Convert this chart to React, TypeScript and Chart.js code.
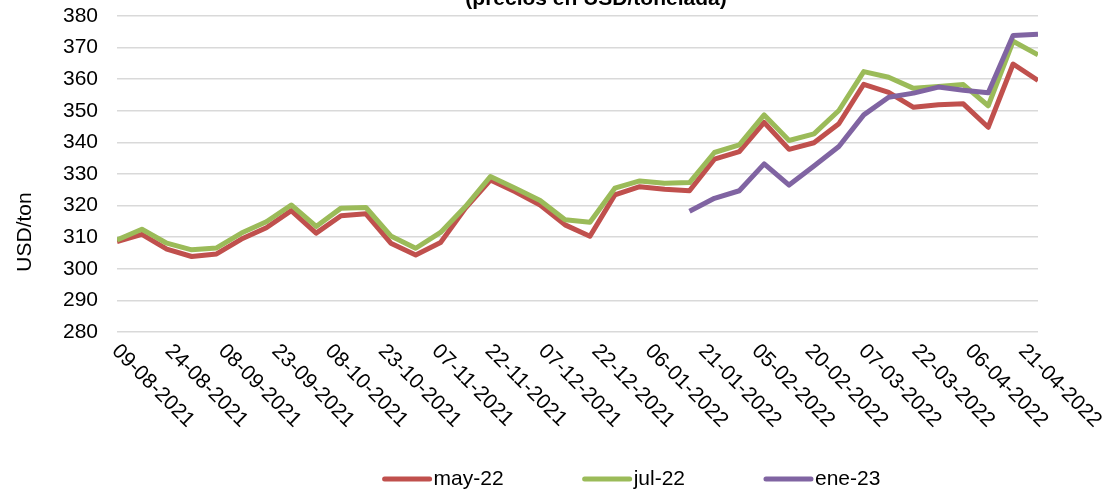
import React, { useEffect, useRef } from "react";
import { Chart, registerables } from "chart.js";

Chart.register(...registerables);

const TITLE = "(precios en USD/tonelada)";
const Y_TITLE = "USD/ton";

// Weekly observation dates (dd-mm-yyyy)
const dates = [
  "09-08-2021", "16-08-2021", "23-08-2021", "30-08-2021",
  "06-09-2021", "13-09-2021", "20-09-2021", "27-09-2021",
  "04-10-2021", "11-10-2021", "18-10-2021", "25-10-2021",
  "01-11-2021", "08-11-2021", "15-11-2021", "22-11-2021", "29-11-2021",
  "06-12-2021", "13-12-2021", "20-12-2021", "27-12-2021",
  "03-01-2022", "10-01-2022", "17-01-2022", "24-01-2022", "31-01-2022",
  "07-02-2022", "14-02-2022", "21-02-2022", "28-02-2022",
  "07-03-2022", "14-03-2022", "21-03-2022", "28-03-2022",
  "04-04-2022", "11-04-2022", "18-04-2022", "25-04-2022",
];

const may22 = [
  308.6, 310.9, 306.2, 303.9, 304.7, 309.4, 313.0, 318.4,
  311.3, 316.8, 317.4, 308.1, 304.4, 308.3, 319.2, 328.1, 324.4,
  320.2, 313.9, 310.3, 323.4, 326.0, 325.2, 324.7, 334.7, 337.1,
  346.3, 337.8, 339.9, 345.9, 358.4, 355.8, 351.1, 351.9,
  352.2, 344.8, 364.8, 359.6,
];

const jul22 = [
  309.1, 312.5, 308.1, 306.0, 306.6, 311.3, 314.9, 320.2,
  313.4, 319.2, 319.4, 310.4, 306.5, 311.5, 319.7, 329.2, 325.5,
  321.6, 315.5, 314.7, 325.5, 327.8, 327.1, 327.3, 336.8, 339.2,
  348.7, 340.6, 342.7, 350.1, 362.4, 360.6, 357.1, 357.7,
  358.3, 351.6, 372.0, 367.7,
];

const ene23 = [
  null, null, null, null, null, null, null, null,
  null, null, null, null, null, null, null, null, null,
  null, null, null, null, null, null, 318.2, 322.3, 324.7,
  333.2, 326.5, 332.5, 338.7, 348.7, 354.3, 355.6, 357.5,
  356.5, 355.7, 373.8, 374.2,
];

const seriesNames = ["may-22", "jul-22", "ene-23"];
const seriesColors = ["#C0504D", "#9BBB59", "#8064A2"];

const xTickLabels = [
  "09-08-2021", "24-08-2021", "08-09-2021", "23-09-2021", "08-10-2021",
  "23-10-2021", "07-11-2021", "22-11-2021", "07-12-2021", "22-12-2021",
  "06-01-2022", "21-01-2022", "05-02-2022", "20-02-2022", "07-03-2022",
  "22-03-2022", "06-04-2022", "21-04-2022",
];

const yMin = 280;
const yMax = 380;
const yStep = 10;

const FONT = '"Liberation Sans", Arial, Helvetica, sans-serif';
const FS = 21;

function dayOf(s: string): number {
  const [d, m, y] = s.split("-").map(Number);
  const base = Date.UTC(2021, 7, 9);
  return Math.round((Date.UTC(y, m - 1, d) - base) / 86400000);
}

const overlayPlugin = {
  id: "overlay",
  afterDraw(chart: any) {
    const ctx = chart.ctx as CanvasRenderingContext2D;
    const xs = chart.scales.x;
    const area = chart.chartArea;
    ctx.save();
    ctx.fillStyle = "#000";

    // Title (partially cut off at the top)
    ctx.font = `bold 21px ${FONT}`;
    ctx.textAlign = "center";
    ctx.textBaseline = "alphabetic";
    ctx.fillText(TITLE, 596, 5);

    // Y axis title
    ctx.save();
    ctx.font = `${FS}px ${FONT}`;
    ctx.translate(25, 232);
    ctx.rotate(-Math.PI / 2);
    ctx.textAlign = "center";
    ctx.textBaseline = "middle";
    ctx.fillText(Y_TITLE, 0, 0);
    ctx.restore();

    // X tick labels, rotated 45deg clockwise
    ctx.font = `${FS}px ${FONT}`;
    for (const lbl of xTickLabels) {
      const x = xs.getPixelForValue(dayOf(lbl));
      ctx.save();
      ctx.translate(x - 2, area.bottom + 16);
      ctx.rotate(Math.PI / 4);
      ctx.textAlign = "left";
      ctx.textBaseline = "middle";
      ctx.fillText(lbl, 0, 0);
      ctx.restore();
    }

    // Legend
    const lineLen = 49;
    const gap = 2;
    const itemGap = 79;
    const ds = chart.data.datasets;
    const widths = ds.map((d: any) => ctx.measureText(d.label).width);
    let total = 0;
    widths.forEach((w: number, i: number) => {
      total += lineLen + gap + w + (i < widths.length - 1 ? itemGap : 0);
    });
    let lx = 631.5 - total / 2;
    const ly = 479;
    ds.forEach((d: any, i: number) => {
      ctx.beginPath();
      ctx.strokeStyle = d.borderColor;
      ctx.lineWidth = 5;
      ctx.lineCap = "round";
      ctx.moveTo(lx + 2, ly);
      ctx.lineTo(lx + lineLen - 2, ly);
      ctx.stroke();
      ctx.textAlign = "left";
      ctx.textBaseline = "middle";
      ctx.fillStyle = "#000";
      ctx.fillText(d.label, lx + lineLen + gap, ly);
      lx += lineLen + gap + widths[i] + itemGap;
    });
    ctx.restore();
  },
};

export default function App() {
  const ref = useRef<HTMLCanvasElement | null>(null);

  useEffect(() => {
    document.body.style.margin = "0";
    const canvas = ref.current;
    if (!canvas) return;
    const xs = dates.map(dayOf);
    const series = [may22, jul22, ene23];
    const chart = new Chart(canvas, {
      type: "line",
      data: {
        datasets: series.map((vals, k) => ({
          label: seriesNames[k],
          data: vals.map((v, i) => ({ x: xs[i], y: v })),
          borderColor: seriesColors[k],
          backgroundColor: seriesColors[k],
          borderWidth: 5,
          borderJoinStyle: "round" as const,
          borderCapStyle: "butt" as const,
          pointRadius: 0,
          pointHoverRadius: 0,
          tension: 0,
          fill: false,
          spanGaps: false,
          order: 3 - k,
        })),
      },
      options: {
        animation: false,
        responsive: false,
        devicePixelRatio: 1,
        layout: { padding: { left: 0, right: 81, top: 16, bottom: 164 } },
        plugins: {
          legend: { display: false },
          title: { display: false },
          tooltip: { enabled: false },
        },
        scales: {
          x: {
            type: "linear",
            display: false,
            min: dayOf(dates[0]),
            max: dayOf(dates[dates.length - 1]),
          },
          y: {
            min: yMin,
            max: yMax,
            afterFit: (s: any) => {
              s.width = 117;
              s.paddingTop = 0;
              s.paddingBottom = 0;
            },
            ticks: {
              stepSize: yStep,
              padding: 19,
              color: "#000",
              font: { size: FS, family: FONT },
            },
            grid: {
              color: "#d9d9d9",
              lineWidth: 1.5,
              drawTicks: false,
            },
            border: { display: false },
          },
        },
      },
      plugins: [overlayPlugin],
    });
    return () => chart.destroy();
  }, []);

  return (
    <div style={{ width: 1119, height: 496, background: "#fff" }}>
      <canvas ref={ref} width={1119} height={496} style={{ display: "block" }} />
    </div>
  );
}
